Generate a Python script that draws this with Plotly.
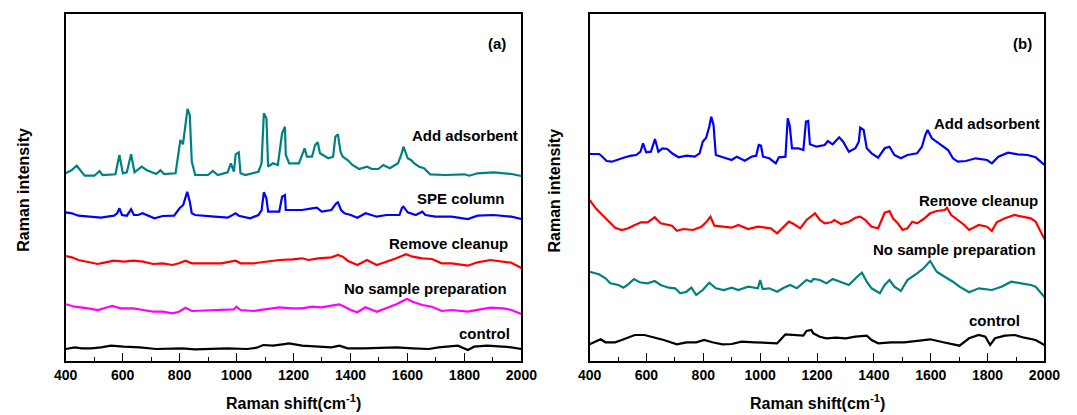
import plotly.graph_objects as go

# ---------------- panel (a) ----------------
a_add_x = [400, 422, 439, 450, 467, 501, 519, 530, 575, 589, 601, 615, 630, 642, 667, 684, 718, 733, 746, 786,
           803, 812, 828, 836, 843, 855, 900, 917, 934, 969, 980, 991, 997, 1008, 1014, 1031, 1077, 1088, 1096,
           1105, 1111, 1128, 1145, 1160, 1170, 1173, 1185, 1219, 1230, 1239, 1247, 1265, 1276, 1285, 1293, 1304,
           1322, 1339, 1347, 1356, 1365, 1373, 1390, 1407, 1430, 1458, 1475, 1498, 1515, 1538, 1567, 1578, 1586,
           1601, 1612, 1624, 1641, 1658, 1680, 1732, 1800, 1817, 1846, 1903, 1965, 2000]
a_add_y = [187.7, 191, 195.3, 191, 185.3, 185.3, 190, 186, 186.7, 206, 187.7, 188.7, 206.7, 188.7, 194.3, 191, 187,
           190.7, 187, 187.7, 221, 216.7, 252, 246, 199.3, 186, 186, 190, 186, 188.7, 197.7, 189.3, 206.7, 208.7,
           187.7, 186, 189.3, 197.7, 247.7, 242.7, 194.3, 197.7, 196, 227.7, 234.3, 206, 197.7, 197.7, 206, 212.7,
           204.3, 204.3, 216, 218.7, 207.7, 206, 202.7, 204.3, 224.3, 226.7, 209.3, 204.3, 201, 196, 192, 194.3,
           192, 192, 196, 192.7, 197.7, 206, 214.3, 202.7, 201, 197.7, 194.3, 192.7, 186.7, 186, 186.7, 185.3,
           187.7, 188.7, 187, 185]

a_spe_x = [400, 422, 445, 479, 524, 570, 581, 589, 598, 615, 630, 640, 655, 670, 689, 712, 741, 781, 800, 813,
           827, 836, 843, 855, 923, 969, 997, 1008, 1048, 1077, 1088, 1096, 1105, 1111, 1150, 1160, 1170, 1173,
           1196, 1230, 1265, 1282, 1299, 1333, 1350, 1356, 1367, 1379, 1401, 1424, 1453, 1470, 1492, 1527, 1572,
           1581, 1586, 1601, 1629, 1652, 1663, 1698, 1755, 1812, 1846, 1903, 1965, 2000]
a_spe_y = [148.7, 147.7, 145.3, 144.3, 143.3, 145.3, 147.7, 152.7, 146, 145.3, 151.7, 146, 146, 147.7, 145.3, 142.7,
           145, 145.3, 152.7, 156, 169.3, 159.3, 147.7, 146, 144.3, 143.3, 147.7, 145.3, 142.7, 146, 151, 168.7,
           162.7, 149.3, 149.3, 164.3, 166, 151, 151, 151, 152.7, 153.3, 149.3, 151, 157.7, 158.7, 151, 147.7, 146,
           143.3, 147.7, 146, 144.3, 146, 146, 153.3, 154.3, 148.7, 146, 149.3, 146, 144.3, 144.3, 142, 145.3, 146,
           144.3, 142]

a_rem_x = [400, 422, 445, 479, 513, 536, 570, 604, 638, 672, 707, 741, 775, 798, 821, 843, 889, 946, 997, 1014,
           1060, 1105, 1150, 1196, 1230, 1253, 1287, 1333, 1356, 1373, 1390, 1424, 1458, 1492, 1527, 1561, 1595,
           1618, 1652, 1686, 1720, 1755, 1812, 1846, 1891, 1937, 1965, 2000]
a_rem_y = [105, 103.7, 101, 99.3, 97, 98.3, 100.3, 99.3, 100.3, 99.3, 97, 97.7, 96, 97.7, 100.3, 97.7, 97.7, 97.7,
           100.3, 97.7, 97.7, 99.3, 101, 101.7, 102.7, 101, 102.7, 103.7, 106, 104.3, 100.3, 96, 101, 96, 99.3,
           102.7, 106.7, 104.3, 102.7, 102, 97.7, 97.7, 95.3, 98.7, 101, 99.3, 98.3, 93]

a_nsp_x = [400, 433, 479, 513, 547, 564, 593, 638, 672, 707, 741, 775, 798, 821, 843, 889, 946, 991, 1000, 1014,
           1060, 1105, 1150, 1196, 1230, 1265, 1299, 1333, 1361, 1379, 1401, 1424, 1453, 1492, 1527, 1561, 1598,
           1618, 1652, 1686, 1720, 1755, 1812, 1846, 1891, 1937, 1965, 2000]
a_nsp_y = [56.7, 54.3, 52.7, 51, 53.7, 55, 52.7, 52.7, 51, 49.3, 49.3, 47.7, 49.3, 53.3, 50, 50.3, 51, 51.7, 54.3,
           51, 50, 51.7, 53.7, 52.7, 52.7, 54.3, 53.7, 55.3, 56.7, 54.3, 51, 48.7, 53.7, 49.3, 52.7, 56.7, 62, 59.3,
           56, 54.3, 50, 51, 49.3, 51, 53.3, 52.7, 51, 47]

a_ctl_x = [400, 433, 456, 490, 524, 559, 604, 661, 718, 775, 809, 855, 900, 969, 1037, 1071, 1094, 1128, 1162,
           1185, 1230, 1276, 1333, 1361, 1390, 1447, 1504, 1561, 1618, 1675, 1709, 1777, 1812, 1834, 1880, 1937,
           1965, 2000]
a_ctl_y = [12, 13.7, 12.7, 12.7, 13.7, 15.3, 14.3, 13.7, 12, 12, 12.7, 11.7, 12, 12.7, 12, 13.3, 16, 15.3, 16.7,
           17.7, 15.3, 14.3, 13.7, 15.3, 12.7, 12.7, 13.3, 13.7, 12.7, 12, 13.7, 15.3, 11, 14.3, 15.3, 14.3, 13.7, 12]

# ---------------- panel (b) ----------------
b_add_x = [400, 422, 434, 445, 460, 478, 502, 525, 547, 564, 579, 588, 599, 616, 630, 642, 656, 673, 690, 713,
           741, 770, 787, 798, 810, 821, 828, 836, 844, 867, 900, 918, 946, 969, 986, 995, 1003, 1010, 1032, 1055,
           1066, 1089, 1097, 1104, 1112, 1134, 1152, 1161, 1169, 1175, 1198, 1227, 1238, 1255, 1278, 1292, 1312,
           1335, 1347, 1352, 1364, 1375, 1392, 1415, 1438, 1455, 1472, 1495, 1518, 1552, 1569, 1581, 1589, 1604,
           1621, 1644, 1661, 1678, 1695, 1724, 1758, 1798, 1815, 1838, 1872, 1906, 1941, 1969, 2000]
b_add_y = [207, 207, 207, 204.3, 200, 199.3, 201.7, 203.7, 205.3, 206, 209.3, 217.7, 208.7, 209.3, 222, 209.3,
           212.7, 212, 207.7, 203.7, 205.3, 204.3, 207.7, 219.3, 223.3, 234.3, 244.3, 236, 206, 203.7, 201, 204.3,
           200.3, 204.3, 205.3, 216, 215.3, 204.3, 202.7, 197.7, 203.7, 204.3, 242.7, 235.3, 212.7, 212.7, 211,
           239.3, 240, 216.7, 214.3, 216, 220, 216.7, 223.7, 219.3, 209.3, 212.7, 219.3, 233.3, 231, 212.7, 207.7,
           203.3, 212.7, 214.3, 206, 202.7, 206, 207.7, 214.3, 226, 231, 222.7, 219.3, 214.3, 211, 202.7, 199.3,
           200, 202.7, 201, 197.7, 204.3, 208.3, 206.7, 206, 203.7, 196]

b_rem_x = [400, 422, 445, 467, 490, 513, 536, 559, 581, 604, 629, 650, 673, 690, 707, 730, 764, 793, 810, 825,
           839, 867, 900, 923, 958, 992, 1014, 1037, 1060, 1083, 1101, 1118, 1141, 1163, 1180, 1193, 1210, 1227,
           1250, 1261, 1284, 1312, 1335, 1352, 1370, 1392, 1415, 1438, 1455, 1467, 1484, 1501, 1518, 1535, 1552,
           1575, 1598, 1621, 1649, 1657, 1672, 1695, 1718, 1735, 1769, 1798, 1815, 1832, 1861, 1895, 1929, 1952,
           1969, 2000]
b_rem_y = [161, 152.7, 146, 139.3, 133.3, 131, 132.7, 136, 138.7, 138.7, 143.7, 137.7, 136.7, 135.3, 130.3, 132, 131,
           134.3, 138.7, 144.3, 135.3, 134.3, 133.3, 136, 132, 134.3, 133.3, 132.7, 127.7, 134.3, 139.3, 137, 132.7,
           141, 144.3, 147.7, 141, 137.7, 138.7, 141, 137, 139.3, 143.3, 144.3, 141, 134.3, 132.7, 148.3, 150,
           142.7, 137.7, 131, 132.7, 139.3, 137.7, 142, 147.7, 150, 151, 153.3, 146, 141, 136, 131, 136, 134.3, 130,
           138.7, 142.7, 146, 144.3, 142.7, 139.3, 122]

b_nsp_x = [400, 433, 456, 473, 502, 519, 536, 556, 576, 604, 629, 650, 678, 701, 719, 741, 758, 775, 798, 821,
           844, 872, 900, 923, 958, 992, 1000, 1009, 1032, 1060, 1083, 1106, 1129, 1152, 1163, 1180, 1187, 1210,
           1233, 1255, 1278, 1312, 1341, 1358, 1375, 1392, 1421, 1438, 1455, 1472, 1495, 1518, 1552, 1575, 1598,
           1621, 1649, 1678, 1701, 1735, 1769, 1815, 1849, 1883, 1918, 1952, 1969, 2000]
b_nsp_y = [89.3, 86.7, 82.7, 77.7, 76, 73.3, 76.7, 82, 78.7, 77.7, 80, 76, 73.3, 72.7, 67.7, 69.3, 73.3, 66, 71,
           78.3, 72.7, 71, 73.3, 71, 74.3, 72.7, 81, 72, 72.7, 69.3, 73.3, 76, 72.7, 77.7, 81, 79.3, 82, 81, 77.7,
           82, 79.3, 76, 84.3, 88.3, 79.3, 72.7, 67.7, 76, 81, 74.3, 70, 81, 87.7, 92.7, 100, 89.3, 84.3, 79.3, 74.3,
           68.7, 72.7, 71, 74.3, 79.3, 77.7, 76, 74.3, 64]

b_ctl_x = [400, 422, 439, 456, 490, 513, 536, 559, 593, 627, 661, 707, 741, 775, 803, 832, 867, 900, 935, 981,
           1014, 1060, 1089, 1129, 1152, 1163, 1180, 1187, 1210, 1233, 1267, 1301, 1335, 1375, 1392, 1415, 1461,
           1507, 1552, 1598, 1644, 1701, 1735, 1769, 1792, 1809, 1826, 1861, 1895, 1929, 1969, 2000]
b_ctl_y = [16.7, 19.3, 21.7, 18.7, 18.7, 21, 23.3, 26, 26, 23.7, 21, 16.7, 18.7, 18.7, 21, 18.7, 16.7, 17, 19.3,
           18.7, 18.3, 17.7, 26.7, 26, 25.3, 30, 31, 27.7, 24.3, 22.7, 23.3, 22.7, 24.3, 25.3, 21, 17.7, 18.7, 18.7,
           20, 21.7, 18.7, 15.3, 22.7, 26, 24.3, 16, 22.7, 25.3, 26, 23.3, 21, 16]

x_ticks = [400, 600, 800, 1000, 1200, 1400, 1600, 1800, 2000]
x_tick_labels = ["400", "600", "800", "1000", "1200", "1400", "1600", "1800", "2000"]

TEAL = "#008080"
BLUE = "#0000FF"
RED = "#FF0000"
MAG = "#FF00FF"
BLACK = "#000000"
LW = 2.2

fig = go.Figure()


def add(x, y, color, ax):
    fig.add_trace(go.Scatter(x=x, y=y, mode="lines", line=dict(color=color, width=LW),
                             xaxis="x" if ax == 1 else "x2", yaxis="y" if ax == 1 else "y2",
                             showlegend=False, hoverinfo="skip"))


add(a_ctl_x, a_ctl_y, BLACK, 1)
add(a_nsp_x, a_nsp_y, MAG, 1)
add(a_rem_x, a_rem_y, RED, 1)
add(a_spe_x, a_spe_y, BLUE, 1)
add(a_add_x, a_add_y, TEAL, 1)
add(b_ctl_x, b_ctl_y, BLACK, 2)
add(b_nsp_x, b_nsp_y, TEAL, 2)
add(b_rem_x, b_rem_y, RED, 2)
add(b_add_x, b_add_y, BLUE, 2)

W, H = 1077, 415
FONT = "Liberation Sans, Arial, sans-serif"


def xax(domain, anchor):
    return dict(domain=domain, anchor=anchor, range=[400, 2000], tickvals=x_ticks, ticktext=x_tick_labels,
                ticks="inside", ticklen=8, tickwidth=1.3, tickcolor="black",
                minor=dict(dtick=100, tick0=400, ticks="inside", ticklen=4, tickwidth=1.3, tickcolor="black"),
                showline=True, mirror=True, linecolor="black", linewidth=1.5,
                showgrid=False, zeroline=False,
                tickfont=dict(family=FONT, size=14, color="black", weight="bold"))


def yax(anchor):
    return dict(domain=[1 - 361 / H, 1 - 14 / H], anchor=anchor, range=[0, 347],
                showticklabels=False, ticks="", showline=True, mirror=True, linecolor="black", linewidth=1.5,
                showgrid=False, zeroline=False)


lab = dict(family=FONT, size=15, color="black", weight="bold")
ttl = dict(family=FONT, size=16, color="black", weight="bold")

annotations = [
    dict(x=1996, y=226, xref="x", yref="y", text="Add adsorbent", xanchor="right"),
    dict(x=1948, y=163, xref="x", yref="y", text="SPE column", xanchor="right"),
    dict(x=1959, y=118, xref="x", yref="y", text="Remove cleanup", xanchor="right"),
    dict(x=1956, y=73, xref="x", yref="y", text="No sample preparation", xanchor="right"),
    dict(x=1966, y=28, xref="x", yref="y", text="control", xanchor="right"),
    dict(x=1915, y=318, xref="x", yref="y", text="(a)", xanchor="center"),
    dict(x=1993, y=238, xref="x2", yref="y2", text="Add adsorbent", xanchor="right"),
    dict(x=1986, y=161, xref="x2", yref="y2", text="Remove cleanup", xanchor="right"),
    dict(x=1979, y=112, xref="x2", yref="y2", text="No sample preparation", xanchor="right"),
    dict(x=1920, y=41, xref="x2", yref="y2", text="control", xanchor="right"),
    dict(x=1924, y=318, xref="x2", yref="y2", text="(b)", xanchor="center"),
]
for a in annotations:
    a.update(showarrow=False, yanchor="middle", font=lab)

for cx in (289, 826.5):
    annotations.append(dict(x=cx / W, y=1 - 402 / H, xref="paper", yref="paper",
                            text="Raman shift(cm<sup>-1</sup>)", showarrow=False,
                            xanchor="center", yanchor="middle", font=ttl))
for cx in (12, 558):
    annotations.append(dict(x=cx / W, y=1 - 190 / H, xref="paper", yref="paper",
                            text="Raman intensity", showarrow=False, textangle=-90,
                            xanchor="center", yanchor="middle", font=ttl))

fig.update_layout(
    width=W, height=H, margin=dict(l=0, r=0, t=0, b=0),
    paper_bgcolor="white", plot_bgcolor="white",
    xaxis=xax([55 / W, 523 / W], "y"),
    yaxis=yax("x"),
    xaxis2=xax([593 / W, 1060 / W], "y2"),
    yaxis2=yax("x2"),
    annotations=annotations,
)

fig.write_html("out.html")
